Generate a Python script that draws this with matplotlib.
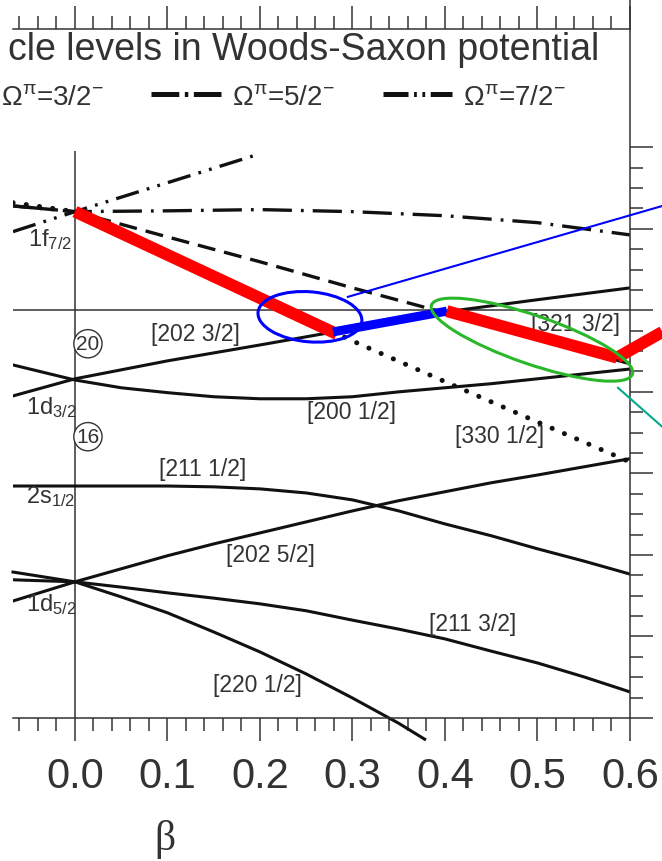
import matplotlib
matplotlib.use('Agg')
import matplotlib.pyplot as plt
import matplotlib.transforms as mtransforms
from matplotlib.lines import Line2D
from matplotlib.patches import Ellipse
from matplotlib.ticker import MultipleLocator, FixedLocator, FormatStrFormatter

plt.rcParams['font.family'] = ['Liberation Sans', 'DejaVu Sans']
plt.rcParams['mathtext.fontset'] = 'custom'
plt.rcParams['mathtext.rm'] = 'Liberation Sans'
plt.rcParams['mathtext.it'] = 'Liberation Sans'
plt.rcParams['lines.scale_dashes'] = False

TXT = '#333333'
INK = '#111111'

# deformation grids (beta) and single-particle energies (MeV)
beta = [-0.067, 0.0, 0.1, 0.2, 0.3, 0.4, 0.5, 0.6]
beta_fine = [-0.067, 0.0, 0.05, 0.1, 0.15, 0.2, 0.25, 0.3, 0.35, 0.4, 0.45, 0.5, 0.55, 0.6]
beta_72 = [-0.067, 0.0, 0.1, 0.2]
beta_220 = [-0.067, 0.0, 0.05, 0.1, 0.15, 0.2, 0.25, 0.3, 0.35, 0.378]

# negative parity, from 1f7/2
e_330_12 = [-3.36, -3.58, -4.64, -5.69, -6.75, -7.75, -8.74, -9.72]
e_321_32 = [-3.44, -3.58, -4.20, -4.81, -5.45, -6.06, -6.69, -7.31]
e_312_52 = [-3.44, -3.58, -3.56, -3.53, -3.58, -3.68, -3.85, -4.15]
e_303_72 = [-4.07, -3.58, -2.87, -2.16]

# positive parity, sd shell
e_202_32 = [-8.10, -7.68, -7.24, -6.85, -6.45, -6.04, -5.74, -5.45]
e_200_12 = [-7.34, -7.71, -7.90, -8.02, -8.12, -8.17, -8.17, -8.12,
            -8.00, -7.90, -7.80, -7.68, -7.56, -7.44]
e_211_12 = [-10.31, -10.31, -10.31, -10.31, -10.33, -10.38, -10.48, -10.65,
            -10.92, -11.24, -11.53, -11.85, -12.15, -12.47]
e_202_52 = [-13.13, -12.66, -12.34, -12.02, -11.73, -11.46, -11.19, -10.92,
            -10.67, -10.45, -10.23, -10.04, -9.84, -9.64]
e_211_32 = [-12.61, -12.66, -12.79, -12.93, -13.06, -13.20, -13.37, -13.60,
            -13.82, -14.06, -14.36, -14.65, -14.99, -15.36]
e_220_12 = [-12.42, -12.66, -13.03, -13.42, -13.89, -14.38, -14.92, -15.51,
            -16.13, -16.52]

# highlighted path of the last occupied orbit
red1_beta, red1_e = [0.0, 0.283], [-3.58, -6.58]
blue_beta, blue_e = [0.279, 0.402], [-6.53, -6.02]
red2_beta, red2_e = [0.402, 0.586], [-6.02, -7.16]
red3_beta, red3_e = [0.586, 0.635], [-7.16, -6.53]
pointer_blue_beta, pointer_blue_e = [0.295, 0.635], [-5.67, -3.44]
pointer_teal_beta, pointer_teal_e = [0.587, 0.635], [-7.90, -8.86]

fermi_e = -6.0
energy_ticks = [-16, -14, -12, -10, -8, -6, -4, -2]
energy_minor = [-15.5, -15, -14.5, -13.5, -13, -12.5, -11.5, -11, -10.5,
                -9.5, -9, -8.5, -7.5, -7, -6.5, -5.5, -5, -4.5,
                -3.5, -3, -2.5]

level_labels = [
    ('[202 3/2]', 0.130, -6.58), ('[200 1/2]', 0.299, -8.49),
    ('[330 1/2]', 0.459, -9.08), ('[321 3/2]', 0.541, -6.33),
    ('[211 1/2]', 0.138, -9.87), ('[202 5/2]', 0.211, -11.98),
    ('[211 3/2]', 0.430, -13.67), ('[220 1/2]', 0.197, -15.19),
]
shell_labels = [
    ('1f$_{7/2}$', -0.051, -4.25), ('1d$_{3/2}$', -0.053, -8.37),
    ('2s$_{1/2}$', -0.053, -10.55), ('1d$_{5/2}$', -0.053, -13.20),
]
magic = [('20', 0.014, -6.82), ('16', 0.014, -9.10)]

DASH = (0, (13, 6.5))
DASHDOT = (0, (21, 6.5, 2, 6.5))
DASHDOTDOT = (0, (17, 6, 2, 6, 2, 6))
DOT = (0, (0.1, 9.5))

fig = plt.figure(figsize=(6.62, 8.62), dpi=100)
ax = fig.add_axes([13 / 662, 143 / 862, 617 / 662, 689 / 862])
ax.set_xlim(-0.067, 0.6)
ax.set_ylim(-16, 0.9)

ax.vlines(0, -16, -2.1, color=TXT, lw=1.1)
ax.axhline(fermi_e, color=TXT, lw=1.1)

ax.plot(beta, e_330_12, color=INK, lw=3.6, ls=DOT, dash_capstyle='round')
ax.plot(beta, e_321_32, color=INK, lw=2.4, ls=DASH)
ax.plot(beta, e_312_52, color=INK, lw=2.4, ls=DASHDOT)
ax.plot(beta_72, e_303_72, color=INK, lw=2.4, ls=DASHDOTDOT)
ax.plot(beta, e_202_32, color=INK, lw=2.2)
for e in (e_200_12, e_211_12, e_202_52, e_211_32):
    ax.plot(beta_fine, e, color=INK, lw=2.2)
ax.plot(beta_220, e_220_12, color=INK, lw=2.2, clip_on=False)

ax.plot(red1_beta, red1_e, color='#ff0000', lw=8.6, solid_capstyle='butt', zorder=4)
ax.plot(blue_beta, blue_e, color='#0000ff', lw=6.5, solid_capstyle='butt', zorder=4)
ax.plot(red2_beta, red2_e, color='#ff0000', lw=8.6, solid_capstyle='butt', zorder=4)
ax.plot(red3_beta, red3_e, color='#ff0000', lw=8.6, solid_capstyle='butt',
        zorder=4, clip_on=False)
ax.plot(pointer_blue_beta, pointer_blue_e, color='#0000ff', lw=1.5, zorder=5, clip_on=False)
ax.plot(pointer_teal_beta, pointer_teal_e, color='#00aa8c', lw=1.5, zorder=5, clip_on=False)


def ring(cx, cy, w, h, angle, color):
    # ellipse sized in points, centred on a data point
    tr = mtransforms.Affine2D().scale(fig.dpi / 72) + \
        mtransforms.ScaledTranslation(cx, cy, ax.transData)
    ax.add_patch(Ellipse((0, 0), w, h, angle=angle, fill=False, ec=color,
                         lw=2.2, transform=tr, zorder=6, clip_on=False))


ring(0.254, -6.16, 75, 36, -5, '#0000ff')
ring(0.494, -6.72, 153, 35, -19, '#2ab82a')

for txt, x, y in level_labels:
    ax.text(x, y, txt, fontsize=16.5, color=TXT, ha='center', va='center')
for txt, x, y in shell_labels:
    ax.text(x, y, txt, fontsize=17, color=TXT, ha='left', va='center')
for txt, x, y in magic:
    ax.text(x, y, txt, fontsize=15, color=TXT, ha='center', va='center',
            bbox=dict(boxstyle='circle,pad=0.12', fc='white', ec=TXT, lw=1.0))

# axes frame and ticks
for side in ('top', 'right', 'bottom'):
    ax.spines[side].set_color(TXT)
    ax.spines[side].set_linewidth(1.1)
ax.spines['left'].set_visible(False)
ax.xaxis.set_major_locator(MultipleLocator(0.1))
ax.xaxis.set_minor_locator(MultipleLocator(0.02))
ax.xaxis.set_major_formatter(FormatStrFormatter('%.1f'))
ax.yaxis.set_major_locator(FixedLocator(energy_ticks))
ax.yaxis.set_minor_locator(FixedLocator(energy_minor))
ax.tick_params(axis='x', which='both', direction='out', top=True, bottom=True,
               color=TXT, width=1.1)
ax.tick_params(axis='y', which='both', direction='out', left=False, right=True,
               labelleft=False, color=TXT, width=1.1)
ax.tick_params(which='major', length=16.5)
ax.tick_params(which='minor', length=9.5)
ax.tick_params(axis='x', which='major', labelsize=30, labelcolor=TXT, pad=11)
fig.add_artist(Line2D([630 / 662, 630 / 662], [832 / 862, 1.0],
                      transform=fig.transFigure, color=TXT, lw=1.1))

fig.text(8 / 662, 1 - 60 / 862, 'cle levels in Woods-Saxon potential',
         fontsize=27, color=TXT, va='baseline')
fig.text(165 / 662, 1 - 850 / 862, 'β', family=['Liberation Serif', 'DejaVu Serif'],
         fontsize=30, color=TXT, ha='center', va='baseline')

handles = [Line2D([], [], color=INK, lw=3.6, ls=(0, (10, 5))),
           Line2D([], [], color=INK, lw=3.6, ls=(0, (20, 4, 2.5, 4))),
           Line2D([], [], color=INK, lw=3.6, ls=(0, (18, 4, 2, 4, 2, 4)))]
names = ['Ω$^{\\pi}$=3/2$^{-}$', 'Ω$^{\\pi}$=5/2$^{-}$', 'Ω$^{\\pi}$=7/2$^{-}$']
leg = ax.legend(handles, names, ncol=3, frameon=False, fontsize=20,
                handlelength=2.5, handletextpad=0.4, columnspacing=1.73,
                loc='center left', borderaxespad=0, borderpad=0,
                bbox_to_anchor=(-80 / 662, 1 - 98 / 862),
                bbox_transform=fig.transFigure)
for t in leg.get_texts():
    t.set_color(TXT)

fig.savefig('out.png', dpi=100)
